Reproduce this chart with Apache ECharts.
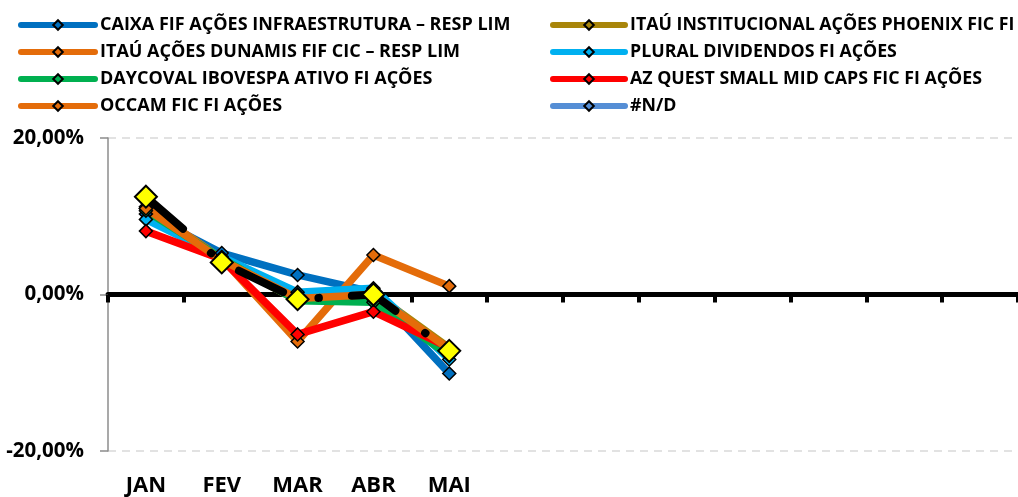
<!DOCTYPE html>
<html>
<head>
<meta charset="utf-8">
<script src="https://cdn.jsdelivr.net/npm/echarts@6/dist/echarts.min.js"></script>
<style>
html,body{margin:0;padding:0;background:#fff;}
#c{width:1018px;height:497px;}
</style>
</head>
<body>
<div id="c"></div>
<script>
// ---- data ----
const categories = ['JAN','FEV','MAR','ABR','MAI','','','','','','',''];
const yTicks = [-20, 0, 20];

const caixa    = [10.3, 5.3, 2.5, 0.3, -10.1];
const phoenix  = [11.0, 4.5, -0.8, 0.2, -6.8];
const dunamis  = [11.2, 4.6, -6.0, 5.05, 1.07];
const plural   = [9.6, 4.8, 0.3, 0.8, -8.3];
const daycoval = [10.7, 4.6, -0.8, -1.0, -7.8];
const azquest  = [8.1, 4.5, -5.1, -2.2, -6.8];
const occam    = [11.0, 4.4, -0.5, 0.0, -7.0];
const nd       = [null, null, null, null, null];
const media    = [12.5, 4.1, -0.6, 0.0, -7.2];

const names = {
  caixa: 'CAIXA FIF AÇÕES INFRAESTRUTURA – RESP LIM',
  phoenix: 'ITAÚ INSTITUCIONAL AÇÕES PHOENIX FIC FI',
  dunamis: 'ITAÚ AÇÕES DUNAMIS FIF CIC – RESP LIM',
  plural: 'PLURAL DIVIDENDOS FI AÇÕES',
  daycoval: 'DAYCOVAL IBOVESPA ATIVO FI AÇÕES',
  azquest: 'AZ QUEST SMALL MID CAPS FIC FI AÇÕES',
  occam: 'OCCAM FIC FI AÇÕES',
  nd: '#N/D',
  media: 'MÉDIA'
};

const FONT = 'Open Sans';

function mk(name, color, data) {
  return {
    name: name, type: 'line', data: data,
    symbol: 'diamond', symbolSize: 13, showSymbol: true,
    lineStyle: {color: color, width: 7.5, cap: 'round', join: 'round'},
    itemStyle: {color: color, borderColor: '#000', borderWidth: 1.5},
    emphasis: {disabled: true},
    xAxisIndex: 0, yAxisIndex: 0
  };
}

const series = [
  mk(names.caixa, '#0070C0', caixa),
  mk(names.phoenix, '#A8850A', phoenix),
  mk(names.dunamis, '#E46C0A', dunamis),
  mk(names.plural, '#00B0F0', plural),
  mk(names.daycoval, '#00B050', daycoval),
  mk(names.azquest, '#FF0000', azquest),
  mk(names.occam, '#E46C0A', occam),
  mk(names.nd, '#558ED5', nd),
  {
    name: names.media, type: 'line', data: media,
    symbol: 'diamond', symbolSize: 22,
    lineStyle: {color: '#000', width: 8, cap: 'round', join: 'round', type: [49, 37, 0.5, 33]},
    itemStyle: {color: '#FFFF00', borderColor: '#000', borderWidth: 2},
    emphasis: {disabled: true},
    xAxisIndex: 0, yAxisIndex: 0
  }
];

const legendText = {fontFamily: FONT, fontWeight: 'bold', fontSize: 18, color: '#000', lineHeight: 18};

const option = {
  animation: false,
  backgroundColor: '#fff',
  legend: [
    {
      data: [names.caixa, names.dunamis, names.daycoval, names.occam],
      orient: 'vertical', left: 13, top: 11,
      itemWidth: 74, itemHeight: 12, itemGap: 9,
      textStyle: legendText,
      lineStyle: {width: 6, cap: 'round'},
      selectedMode: false
    },
    {
      data: [names.phoenix, names.plural, names.azquest, names.nd],
      orient: 'vertical', left: 545, top: 11,
      itemWidth: 72, itemHeight: 12, itemGap: 9,
      textStyle: Object.assign({}, legendText, {fontSize: 17.8}),
      lineStyle: {width: 6, cap: 'round'},
      selectedMode: false
    }
  ],
  grid: {left: 108, right: -9, top: 138, bottom: 44},
  xAxis: [
    {
      type: 'category', data: categories, position: 'bottom',
      boundaryGap: true,
      axisLine: {show: false, onZero: false},
      axisTick: {show: false},
      axisLabel: {interval: 0, margin: 24, fontFamily: FONT, fontWeight: 'bold', fontSize: 22, color: '#000'},
      splitLine: {show: false}
    },
    {
      type: 'category', data: categories, position: 'bottom',
      boundaryGap: true,
      axisLine: {show: true, onZero: true, lineStyle: {color: '#000', width: 5}},
      axisTick: {show: true, length: 8, lineStyle: {color: '#000', width: 4}},
      axisLabel: {show: false},
      splitLine: {show: false}
    }
  ],
  yAxis: {
    type: 'value', min: yTicks[0], max: yTicks[yTicks.length - 1], interval: 20,
    axisLine: {show: true, onZero: false, lineStyle: {color: '#8C8C8C', width: 1.5}},
    axisTick: {show: true, length: 8, lineStyle: {color: '#8C8C8C', width: 1.5}},
    axisLabel: {
      margin: 24, fontFamily: FONT, fontWeight: 'bold', fontSize: 20.5, color: '#000',
      formatter: v => v.toFixed(2).replace('.', ',') + '%'
    },
    splitLine: {show: true, lineStyle: {color: '#D9D9D9', width: 1.5, type: [8, 6]}}
  },
  series: series
};

const chart = echarts.init(document.getElementById('c'), null, {renderer: 'canvas'});
chart.setOption(option);
</script>
</body>
</html>
